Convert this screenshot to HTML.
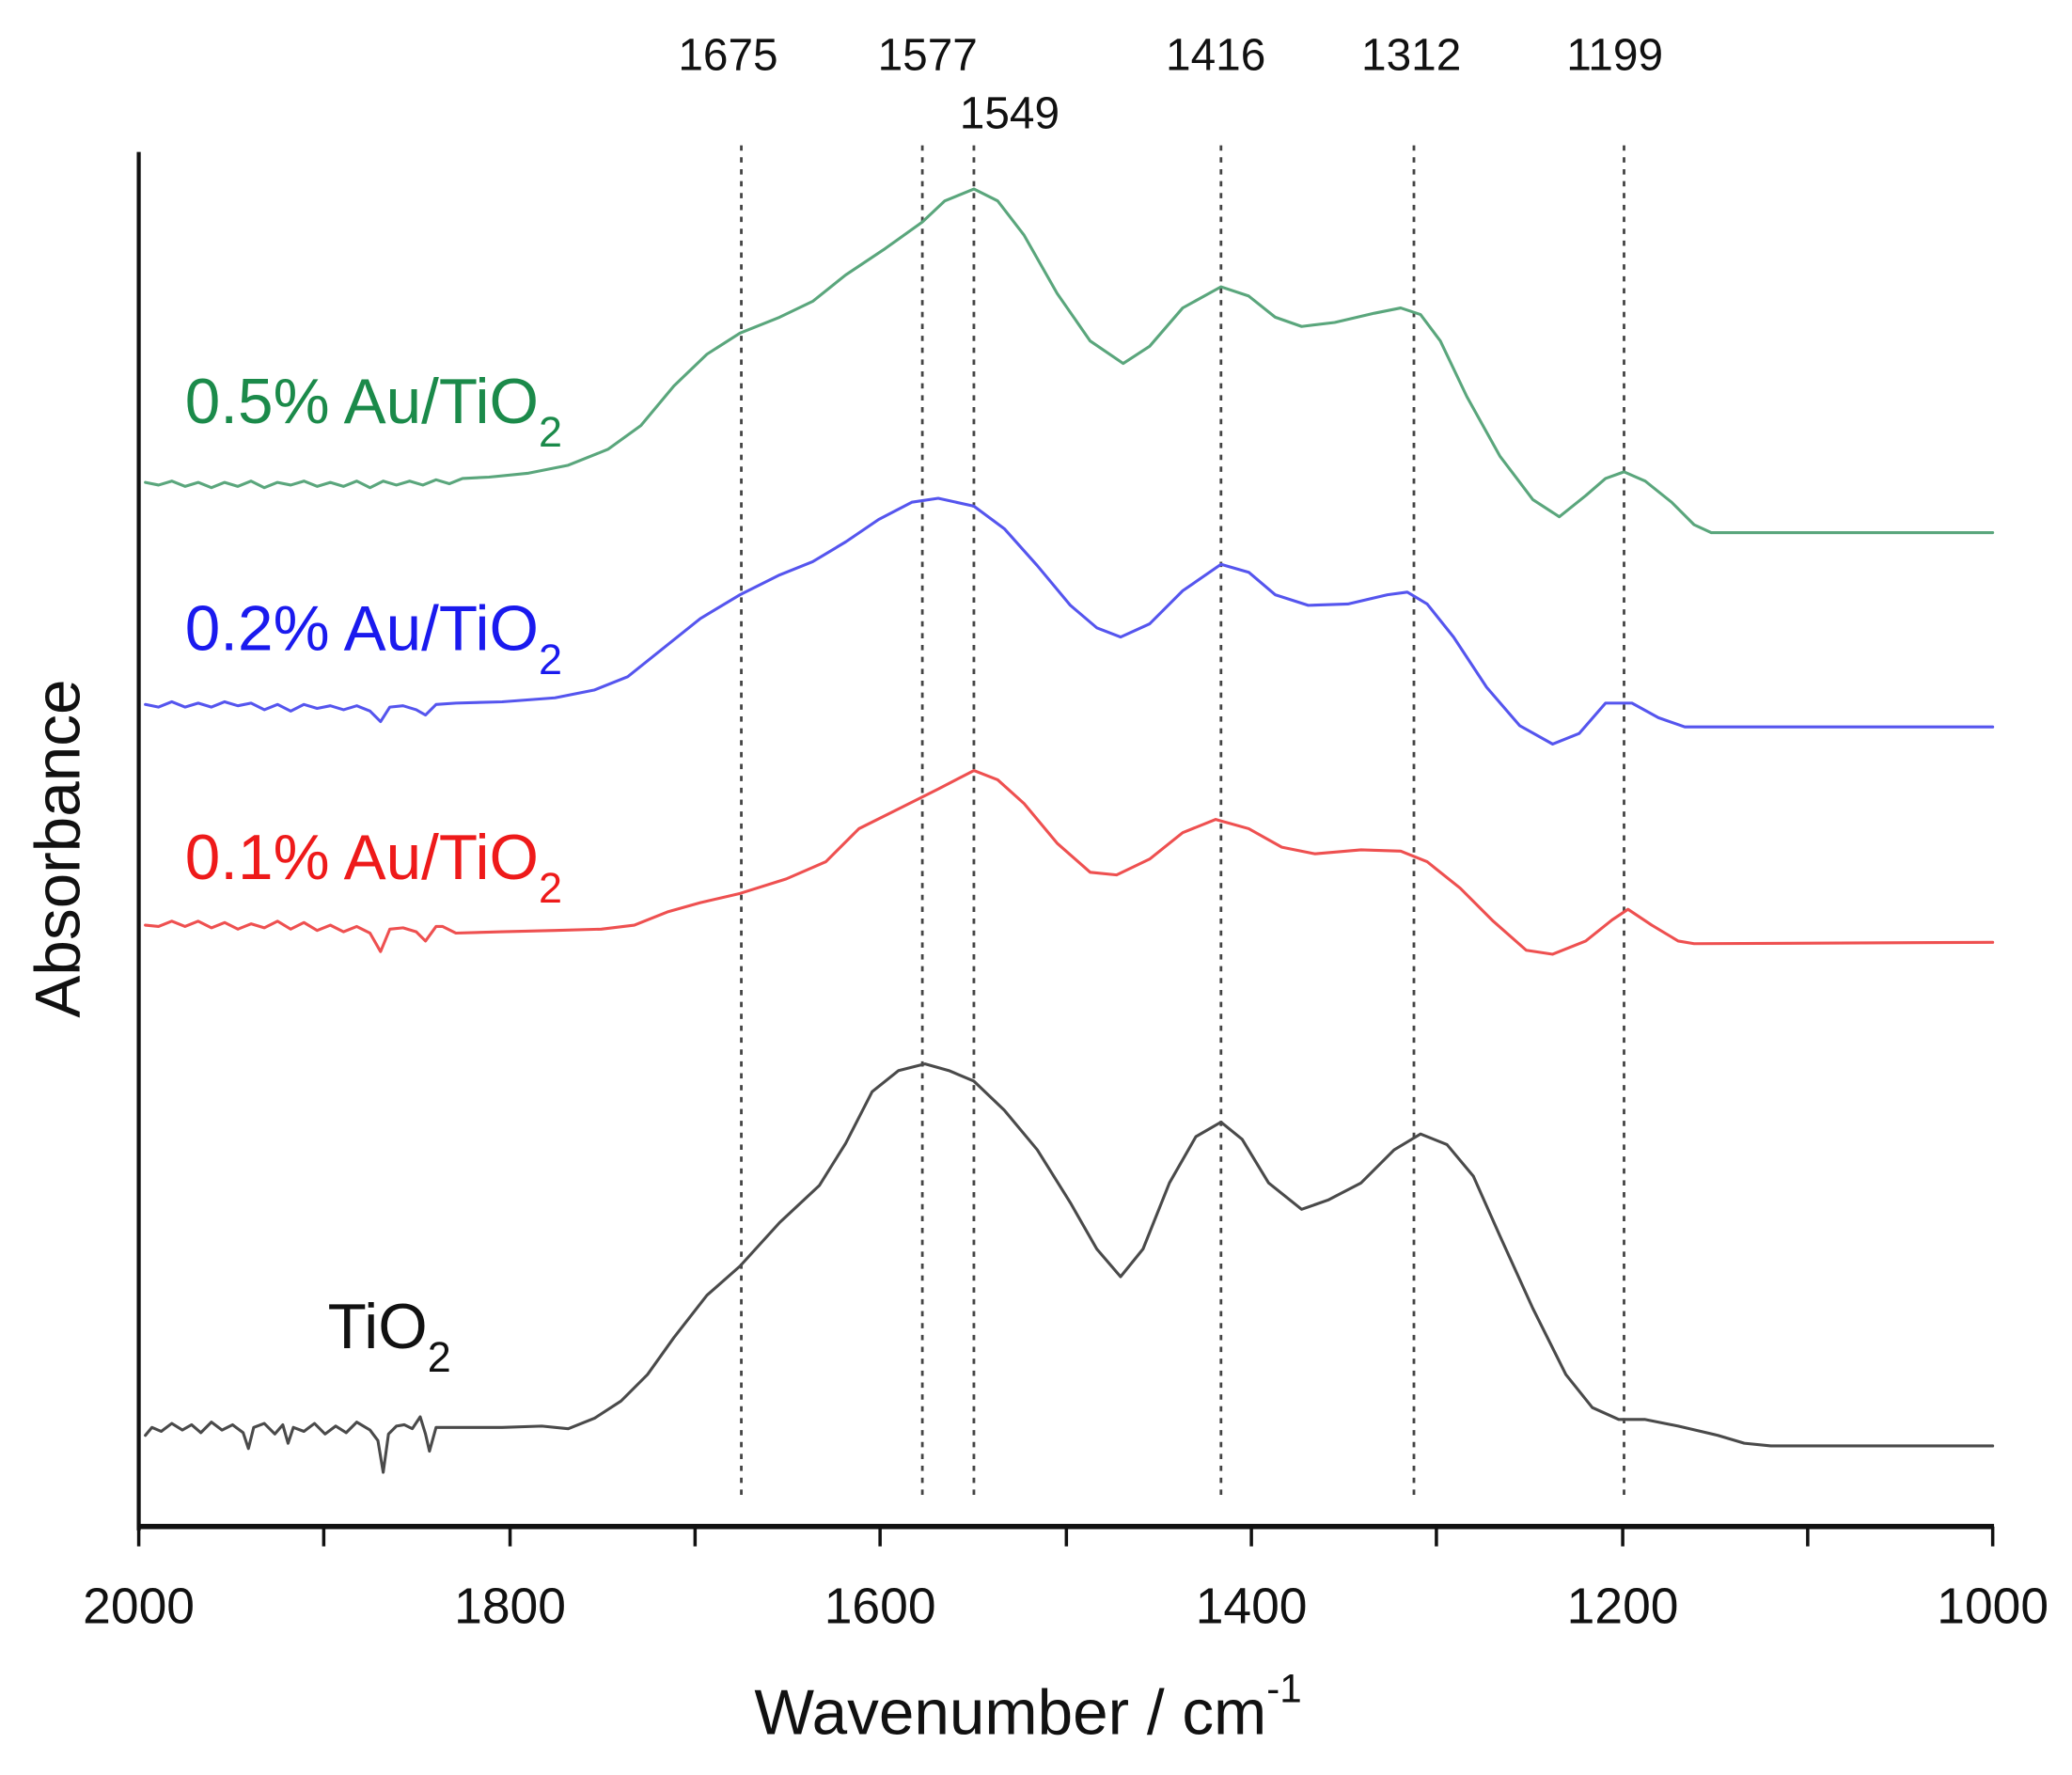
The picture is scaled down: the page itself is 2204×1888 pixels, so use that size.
<!DOCTYPE html>
<html><head><meta charset="utf-8"><style>
html,body{margin:0;padding:0;background:#fff;}
svg{display:block;}
text{font-family:"Liberation Sans",Arial,sans-serif;}
</style></head><body>
<svg width="2204" height="1888" viewBox="0 0 1568 1343" preserveAspectRatio="none" xmlns="http://www.w3.org/2000/svg">
<rect width="1568" height="1343" fill="#fff"/>
<!-- dotted reference lines -->
<g stroke="#444" stroke-width="2" stroke-dasharray="4,5">
<line x1="561" y1="110" x2="561" y2="1135"/>
<line x1="698" y1="110" x2="698" y2="1135"/>
<line x1="737" y1="110" x2="737" y2="1135"/>
<line x1="924" y1="110" x2="924" y2="1135"/>
<line x1="1070" y1="110" x2="1070" y2="1135"/>
<line x1="1229" y1="110" x2="1229" y2="1135"/>
</g>
<g font-size="34" fill="#111" text-anchor="middle">
<text x="551" y="53">1675</text>
<text x="702" y="53">1577</text>
<text x="764" y="97">1549</text>
<text x="920" y="53">1416</text>
<text x="1068" y="53">1312</text>
<text x="1222" y="53">1199</text>
</g>
<!-- curves -->
<g fill="none" stroke-width="2.2" stroke-linejoin="round" stroke-linecap="round">
<polyline stroke="#5aa67c" points="110,365 120,367 130,364 140,368 150,365 160,369 170,365 180,368 190,364 200,369 210,365 220,367 230,364 240,368 250,365 260,368 270,364 280,369 290,364 300,367 310,364 320,367 330,363 340,366 350,362 370,361 400,358 430,352 460,340 485,322 510,292 535,268 560,252 590,240 615,228 640,208 670,188 698,168 715,152 737,143 755,152 775,178 800,222 825,258 850,275 870,262 895,233 924,217 945,224 965,240 985,247 1010,244 1040,237 1060,233 1075,238 1090,258 1110,300 1135,345 1160,378 1180,391 1200,375 1215,362 1229,357 1245,364 1265,380 1282,397 1295,403 1508,403"/>
<polyline stroke="#5555ee" points="110,533 120,535 130,531 140,535 150,532 160,535 170,531 180,534 190,532 200,537 210,533 220,538 230,533 240,536 250,534 260,537 270,534 280,538 288,546 295,535 305,534 315,537 322,541 330,533 345,532 380,531 420,528 450,522 475,512 500,492 530,468 560,450 590,435 615,425 640,410 665,393 690,380 710,377 737,383 760,400 785,428 810,458 830,475 848,482 870,472 895,447 924,427 945,433 965,450 990,458 1020,457 1050,450 1065,448 1080,457 1100,482 1125,520 1150,549 1175,563 1195,555 1215,532 1235,532 1255,543 1275,550 1508,550"/>
<polyline stroke="#ee5050" points="110,700 120,701 130,697 140,701 150,697 160,702 170,698 180,703 190,699 200,702 210,697 220,703 230,698 240,704 250,700 260,705 270,701 280,706 288,720 295,703 305,702 315,705 322,712 330,701 335,701 345,706 380,705 420,704 455,703 480,700 505,690 530,683 560,676 595,665 625,652 650,627 680,612 710,597 737,583 755,590 775,608 800,638 825,660 845,662 870,650 895,630 920,620 945,627 970,641 995,646 1030,643 1060,644 1080,652 1105,672 1130,697 1155,719 1175,722 1200,712 1220,696 1232,688 1250,700 1270,712 1282,714 1508,713"/>
<polyline stroke="#4a4a4a" points="110,1086 115,1080 122,1083 130,1077 138,1082 145,1078 152,1084 160,1076 168,1082 176,1078 184,1084 188,1096 192,1080 200,1077 208,1085 214,1078 218,1092 222,1080 230,1083 238,1077 246,1085 254,1079 262,1084 270,1076 280,1082 286,1090 290,1114 294,1085 300,1079 306,1078 312,1081 318,1072 322,1085 325,1098 330,1080 350,1080 380,1080 410,1079 430,1081 450,1073 470,1060 490,1040 510,1012 535,980 560,958 590,925 620,897 640,865 660,826 680,810 700,805 718,810 737,818 760,840 785,870 810,910 830,945 848,966 865,945 885,895 905,860 924,849 940,862 960,895 985,915 1005,908 1030,895 1055,870 1075,858 1095,866 1115,890 1135,935 1160,990 1185,1040 1205,1065 1225,1074 1245,1074 1270,1079 1300,1086 1320,1092 1340,1094 1508,1094"/>
</g>
<!-- series labels -->
<g font-size="48">
<text x="140" y="320" fill="#1b8a4a">0.5% Au/TiO<tspan font-size="32" dy="18">2</tspan></text>
<text x="140" y="492" fill="#1a1aee">0.2% Au/TiO<tspan font-size="32" dy="18">2</tspan></text>
<text x="140" y="665" fill="#ee1a1a">0.1% Au/TiO<tspan font-size="32" dy="18">2</tspan></text>
<text x="248" y="1020" fill="#111">TiO<tspan font-size="32" dy="18">2</tspan></text>
</g>
<!-- axes -->
<g stroke="#111">
<line x1="105" y1="115" x2="105" y2="1158" stroke-width="3"/>
<line x1="104" y1="1155" x2="1509" y2="1155" stroke-width="4"/>
<g stroke-width="2.5">
<line x1="105" y1="1155" x2="105" y2="1170"/>
<line x1="245" y1="1155" x2="245" y2="1170"/>
<line x1="386" y1="1155" x2="386" y2="1170"/>
<line x1="526" y1="1155" x2="526" y2="1170"/>
<line x1="666" y1="1155" x2="666" y2="1170"/>
<line x1="807" y1="1155" x2="807" y2="1170"/>
<line x1="947" y1="1155" x2="947" y2="1170"/>
<line x1="1087" y1="1155" x2="1087" y2="1170"/>
<line x1="1228" y1="1155" x2="1228" y2="1170"/>
<line x1="1368" y1="1155" x2="1368" y2="1170"/>
<line x1="1508" y1="1155" x2="1508" y2="1170"/>
</g>
</g>
<g font-size="38" fill="#111" text-anchor="middle">
<text x="105" y="1228">2000</text>
<text x="386" y="1228">1800</text>
<text x="666" y="1228">1600</text>
<text x="947" y="1228">1400</text>
<text x="1228" y="1228">1200</text>
<text x="1508" y="1228">1000</text>
</g>
<text x="778" y="1312" font-size="48" fill="#111" text-anchor="middle">Wavenumber / cm<tspan font-size="30" dy="-24">-1</tspan></text>
<text transform="translate(60,642) rotate(-90)" font-size="48" fill="#111" text-anchor="middle">Absorbance</text>
</svg>
</body></html>
